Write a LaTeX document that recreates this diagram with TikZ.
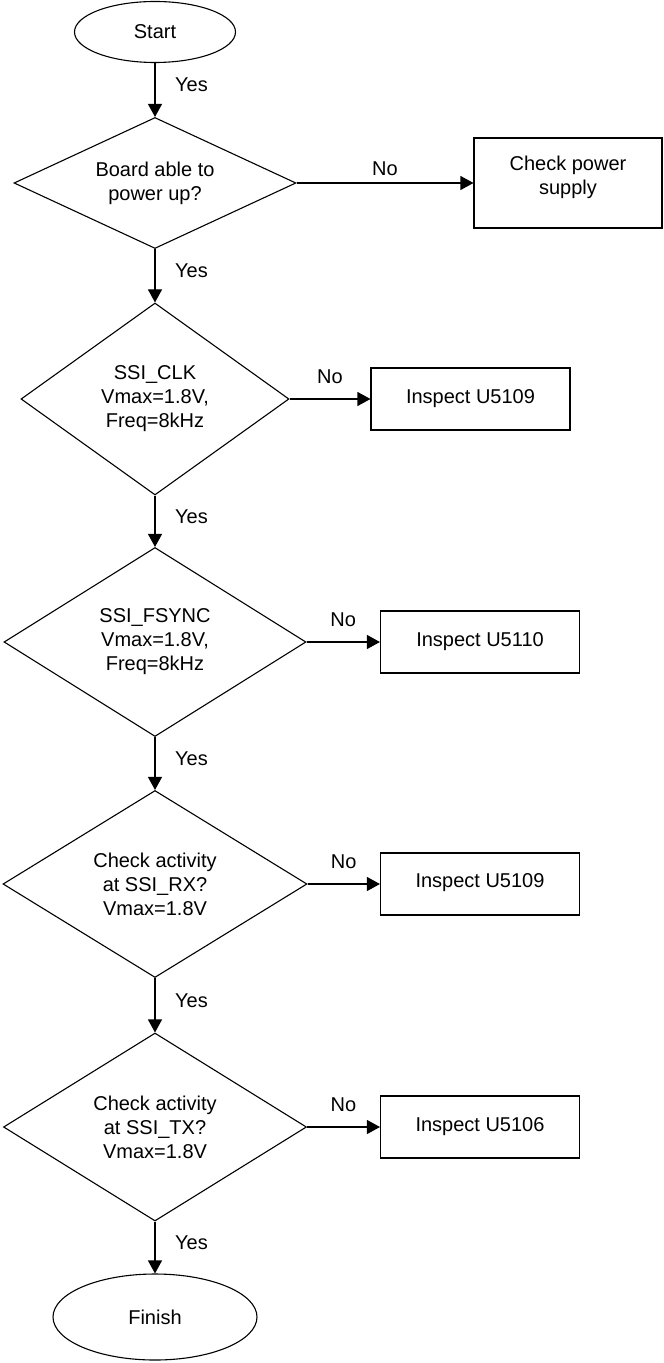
\documentclass[tikz,border=0pt]{standalone}
\usepackage{fontspec}
\setmainfont{Liberation Sans}
\usetikzlibrary{arrows.meta,shapes.geometric}

\begin{document}
\begin{tikzpicture}[x=0.5pt,y=-0.5pt,line width=0.55pt,
  >={Triangle[length=6.5pt,width=7pt]},
  every node/.style={font=\fontsize{10}{12}\selectfont,align=center},
  terminal/.style={draw,ellipse,inner sep=0pt},
  decision/.style={draw,diamond,aspect=1.6,inner sep=0pt},
  check/.style={draw,inner sep=0pt,minimum width=99.5pt,minimum height=31pt},
  flow/.style={->},
  yes/.style={midway,anchor=west,xshift=6.5pt,yshift=2.5pt},
  no/.style={midway,above=4pt}]
  \useasboundingbox (0,0) rectangle (663,1363);
  % main line
  \node[terminal,minimum width=80.5pt,minimum height=30.5pt] (start) at (155,32) {Start};
  \node[decision,minimum width=141pt,minimum height=65.5pt] (power) at (155,183) {Board able to\\power up?};
  \node[decision,minimum width=134pt,minimum height=96pt] (clk) at (155,399) {SSI\_CLK\\Vmax=1.8V,\\Freq=8kHz};
  \node[decision,minimum width=151pt,minimum height=94.5pt] (fsync) at (155,642) {SSI\_FSYNC\\Vmax=1.8V,\\Freq=8kHz};
  \node[decision,minimum width=152pt,minimum height=93.5pt] (rx) at (155,884) {Check activity\\at SSI\_RX?\\Vmax=1.8V};
  \node[decision,minimum width=151.5pt,minimum height=94pt] (tx) at (155,1127) {Check activity\\at SSI\_TX?\\Vmax=1.8V};
  \node[terminal,minimum width=102pt,minimum height=43pt] (finish) at (155,1317) {Finish};
  % side boxes
  \node[check,minimum width=94pt,minimum height=45pt,text depth=8pt] (supply) at (568,183) {Check power\\supply};
  \node[check] (uclk) at (470.5,399) {Inspect U5109};
  \node[check] (ufsync) at (480,642) {Inspect U5110};
  \node[check,text depth=3pt] (urx) at (480,884) {Inspect U5109};
  \node[check] (utx) at (480,1127) {Inspect U5106};

  \draw[flow] (start) -- node[yes] {Yes} (power);
  \draw[flow] (power) -- node[yes] {Yes} (clk);
  \draw[flow] (clk) -- node[yes] {Yes} (fsync);
  \draw[flow] (fsync) -- node[yes] {Yes} (rx);
  \draw[flow] (rx) -- node[yes] {Yes} (tx);
  \draw[flow] (tx) -- node[yes] {Yes} (finish);

  \draw[flow] (power.east) -- node[midway,above] {No} (supply.west);
  \draw[flow] (clk.east) -- node[no] {No} (uclk.west);
  \draw[flow] (fsync.east) -- node[no] {No} (ufsync.west);
  \draw[flow] (rx.east) -- node[no] {No} (urx.west);
  \draw[flow] (tx.east) -- node[no] {No} (utx.west);
\end{tikzpicture}
\end{document}
